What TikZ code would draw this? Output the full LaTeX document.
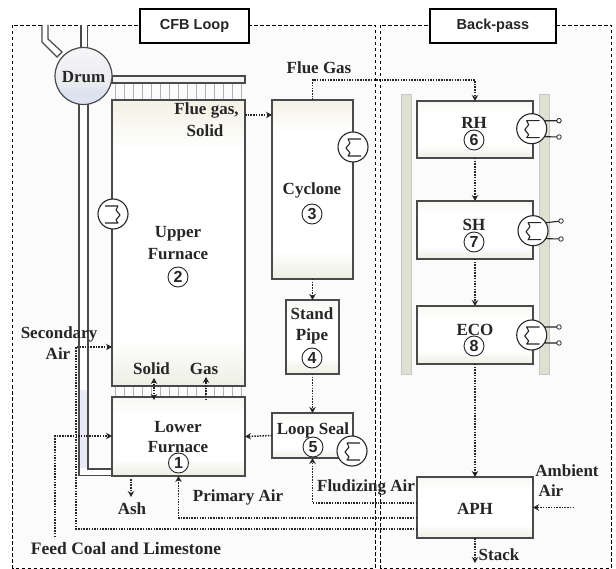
\documentclass[tikz,border=0pt]{standalone}
\usepackage{fontspec}
\setmainfont{Liberation Serif}
\newfontfamily\sansf{Liberation Sans}
\usetikzlibrary{arrows.meta}
\definecolor{ink}{HTML}{262626}
\definecolor{edge}{HTML}{4A4A4A}
\definecolor{barc}{HTML}{DFE0D2}
\definecolor{beige}{HTML}{F3F1E4}
\definecolor{sage}{HTML}{EDEEE3}
\definecolor{drumtop}{HTML}{F6F6F8}
\definecolor{drummid}{HTML}{E9EAEE}
\definecolor{drumlow}{HTML}{DDE3F1}
\definecolor{lav}{HTML}{E9EAF6}
\pgfdeclareverticalshading{upshade}{100bp}{color(0bp)=(sage);color(25bp)=(sage);color(33bp)=(white);color(66bp)=(white);color(75bp)=(beige);color(100bp)=(beige)}
\pgfdeclareverticalshading{cycshade}{100bp}{color(0bp)=(sage);color(25bp)=(sage);color(33bp)=(white);color(66bp)=(white);color(75bp)=(beige);color(100bp)=(beige)}
\pgfdeclareverticalshading{boxshade}{100bp}{color(0bp)=(sage);color(25bp)=(sage);color(36bp)=(white);color(64bp)=(white);color(75bp)=(sage!45);color(100bp)=(sage!45)}
\pgfdeclareverticalshading{drumshade}{100bp}{color(0bp)=(drumlow);color(25bp)=(drumlow);color(38bp)=(drumlow);color(42bp)=(drummid);color(75bp)=(drumtop);color(100bp)=(drumtop)}
\tikzset{
  x=1pt,y=-1pt,
  frame/.style={draw=black,line width=0.9pt,dash pattern=on 3.5pt off 2.5pt,fill=black!1.5},
  title/.style={draw=black,fill=white,line width=1.3pt,font=\sansf\bfseries\fontsize{14.5}{17}\selectfont,text=ink,inner sep=0pt,outer sep=0pt},
  unit/.style={draw=edge,line width=1.2pt,shading=boxshade,inner sep=0pt,outer sep=0pt},
  lab/.style={font=\bfseries\fontsize{17}{19}\selectfont,text=ink,inner sep=0pt},
  num/.style={circle,draw=ink,fill=white,line width=0.9pt,minimum size=20pt,inner sep=0pt,font=\sansf\bfseries\fontsize{16}{17}\selectfont,text=ink},
  flow/.style={draw=ink,line width=1.5pt,dash pattern=on 1.5pt off 1.2pt,-{Stealth[length=6pt,width=6.5pt]}},
  flowb/.style={draw=ink,line width=1.5pt,dash pattern=on 1.5pt off 1.2pt,{Stealth[length=6pt,width=6.5pt]}-{Stealth[length=6pt,width=6.5pt]}},
  hxc/.style={circle,draw=ink,fill=white,line width=1.1pt,minimum size=30pt,inner sep=0pt,outer sep=0pt},
  term/.style={circle,draw=ink,fill=white,line width=0.8pt,minimum size=4.5pt,inner sep=0pt,outer sep=0pt},
  pipe/.style={draw=edge,line width=1.2pt},
  hatch/.style={draw=black!30,line width=0.7pt},
  hxsym/.pic={
    \node[hxc] (-c) at (0,0) {};
    \draw[ink,line width=1.1pt,line join=round] (8,-8) -- (-5,-8) -- (-3,-4) -- (-7,1) -- (-3,6) -- (-5,9) -- (8,9);
  }
}
\begin{document}
\begin{tikzpicture}
\useasboundingbox (0,0) rectangle (616,569);
% frames
\draw[frame] (12.5,25) rectangle (375,568);
\draw[frame] (380.5,25) rectangle (611,568);
\node[title,minimum width=109pt,minimum height=34pt] (cfb) at (194.5,26) {CFB Loop};
\node[title,minimum width=126pt,minimum height=34pt] (back) at (493,26) {Back-pass};
% steam pipes
\draw[pipe,fill=white] (42,25) -- (42,42) -- (57,57) -- (62,52) -- (48,39) -- (48,25);
\draw[pipe,fill=white] (81,25) -- (81,50) -- (87.5,50) -- (87.5,25);
% downcomer
\draw[pipe,fill=white] (79,100) -- (79,475.5) -- (112,475.5) -- (112,469) -- (88,469) -- (88,100) -- cycle;
\fill[lav] (80,390) rectangle (87.4,468.4);
% hatching
\foreach \hx in {115,124,...,243}{\draw[hatch] (\hx,83) -- (\hx,100);}
\foreach \hx in {115,124,...,243}{\draw[hatch] (\hx,387) -- (\hx,397);}
% header
\node[draw=edge,line width=1.2pt,fill=black!4,inner sep=0pt,outer sep=0pt,minimum width=133pt,minimum height=7pt] (header) at (178.5,79.5) {};
% furnace and cyclone loop
\node[unit,shading=upshade,minimum width=133pt,minimum height=286pt] (upper) at (178.5,243) {};
\node[unit,minimum width=133pt,minimum height=79pt] (lower) at (178.5,436.5) {};
\node[unit,shading=cycshade,minimum width=81pt,minimum height=179pt] (cyc) at (312.5,189.5) {};
\node[unit,minimum width=53pt,minimum height=74pt] (stand) at (312.5,337) {};
\node[unit,minimum width=81pt,minimum height=45pt] (seal) at (312.5,435.5) {};
% back-pass
\fill[barc,draw=black!22] (401,94) rectangle (411,374);
\fill[barc,draw=black!22] (539,94) rectangle (549,374);
\node[unit,minimum width=116pt,minimum height=57pt] (rh) at (475,129.5) {};
\node[unit,minimum width=116pt,minimum height=58pt] (sh) at (475,230) {};
\node[unit,minimum width=116pt,minimum height=58pt] (eco) at (475,335) {};
\node[unit,minimum width=116pt,minimum height=61pt] (aph) at (475,507.5) {};
% drum
\node[circle,draw=edge,line width=1.2pt,shading=drumshade,minimum size=57pt,inner sep=0pt,outer sep=0pt] (drum) at (83.5,76) {};
\node[lab] at (83.5,77) {Drum};
% heat exchangers
\pic[xscale=-1] (hxup) at (113,214) {hxsym};
\pic (hxcyc) at (353,147) {hxsym};
\pic (hxseal) at (352,451) {hxsym};
\node[term] (t1a) at (559,120.7) {};
\node[term] (t1b) at (559,137) {};
\node[term] (t2a) at (561,221) {};
\node[term] (t2b) at (561,239) {};
\node[term] (t3a) at (559,327) {};
\node[term] (t3b) at (559,343) {};
\pic (hxrh) at (531.7,128.7) {hxsym};
\pic (hxsh) at (533,230.7) {hxsym};
\pic (hxeco) at (531.7,335) {hxsym};
\draw[ink,line width=1.1pt] (hxrh-c.32) -- (t1a) (hxrh-c.-32) -- (t1b);
\draw[ink,line width=1.1pt] (hxsh-c.32) -- (t2a) (hxsh-c.-32) -- (t2b);
\draw[ink,line width=1.1pt] (hxeco-c.32) -- (t3a) (hxeco-c.-32) -- (t3b);
% flow coordinates
\coordinate (fgout) at (245,115);
\coordinate (fgin) at (272,115);
\coordinate (fa) at (417,503);
\coordinate (pa) at (417,518);
\coordinate (sa) at (417,529);
\coordinate (sacorner) at (76,529);
\coordinate (sabend) at (76,347);
\coordinate (sain) at (112,347);
\coordinate (feed) at (55,537);
\coordinate (feedin) at (112,436);
\coordinate (ash0) at (131,479);
\coordinate (ash1) at (131,497);
\coordinate (sol0) at (154,378);
\coordinate (sol1) at (154,400);
\coordinate (gas0) at (206,400);
\coordinate (gas1) at (206,377);
\coordinate (amb) at (574,507.5);
\coordinate (stack) at (475,563);
% flows
\draw[flow] (fgout) -- (fgin);
\draw[flow] (cyc.north) -- ++(0,-20) -| (rh.north);
\draw[flow] (rh.south) -- (sh.north);
\draw[flow] (sh.south) -- (eco.north);
\draw[flow] (eco.south) -- (aph.north);
\draw[flow] (cyc.south) -- (stand.north);
\draw[flow] (stand.south) -- (seal.north);
\draw[flow] (seal.west) -- (lower.east);
\draw[flow] (fa) -| (seal.south);
\draw[flow] (pa) -| (lower.south);
\draw[flow] (sa) -- (sacorner) -- (sabend) -- (sain);
\draw[flow] (feed) |- (feedin);
\draw[flow] (ash0) -- (ash1);
\draw[flowb] (sol0) -- (sol1);
\draw[flow] (gas0) -- (gas1);
\draw[flow] (amb) -- (aph.east);
\draw[flow] (aph.south) -- (stack);
% labels
\node[lab] (lflue) at (206.5,110) {Flue gas,};
\node[lab] (lsolid) at (205,131) {Solid};
\node[lab] (lup1) at (178,234) {Upper};
\node[lab] (lup2) at (178,254) {Furnace};
\node[num] (n2) at (178,277) {2};
\node[lab] (lcy) at (312,190) {Cyclone};
\node[num] (n3) at (312,214) {3};
\node[lab] (lst1) at (312,314) {Stand};
\node[lab] (lst2) at (312,336) {Pipe};
\node[num] (n4) at (312,358) {4};
\node[lab] (lls) at (313,430) {Loop Seal};
\node[num] (n5) at (313,447) {5};
\node[lab] (llo1) at (178,427) {Lower};
\node[lab] (llo2) at (178,447) {Furnace};
\node[num] (n1) at (178.5,463) {1};
\node[lab] (lrh) at (474,123) {RH};
\node[num] (n6) at (474,140) {6};
\node[lab] (lsh) at (474,225) {SH};
\node[num] (n7) at (474,242) {7};
\node[lab] (leco) at (475,330) {ECO};
\node[num] (n8) at (474,346) {8};
\node[lab] (laph) at (475,509) {APH};
\node[lab] (lfg) at (319,68) {Flue Gas};
\node[lab] (lsec1) at (59,334) {Secondary};
\node[lab] (lsec2) at (58,354) {Air};
\node[lab] (lsol) at (151.5,369) {Solid};
\node[lab] (lgas) at (204,369) {Gas};
\node[lab] (lash) at (132,509) {Ash};
\node[lab] (lpri) at (238,497) {Primary Air};
\node[lab] (lflu) at (366,487) {Fludizing Air};
\node[lab] (lamb1) at (567,471) {Ambient};
\node[lab] (lamb2) at (551,491) {Air};
\node[lab] (lsta) at (499,555) {Stack};
\node[font=\bfseries\fontsize{17.5}{19}\selectfont,text=ink,inner sep=0pt] (lfeed) at (126,549) {Feed Coal and Limestone};
\end{tikzpicture}
\end{document}
